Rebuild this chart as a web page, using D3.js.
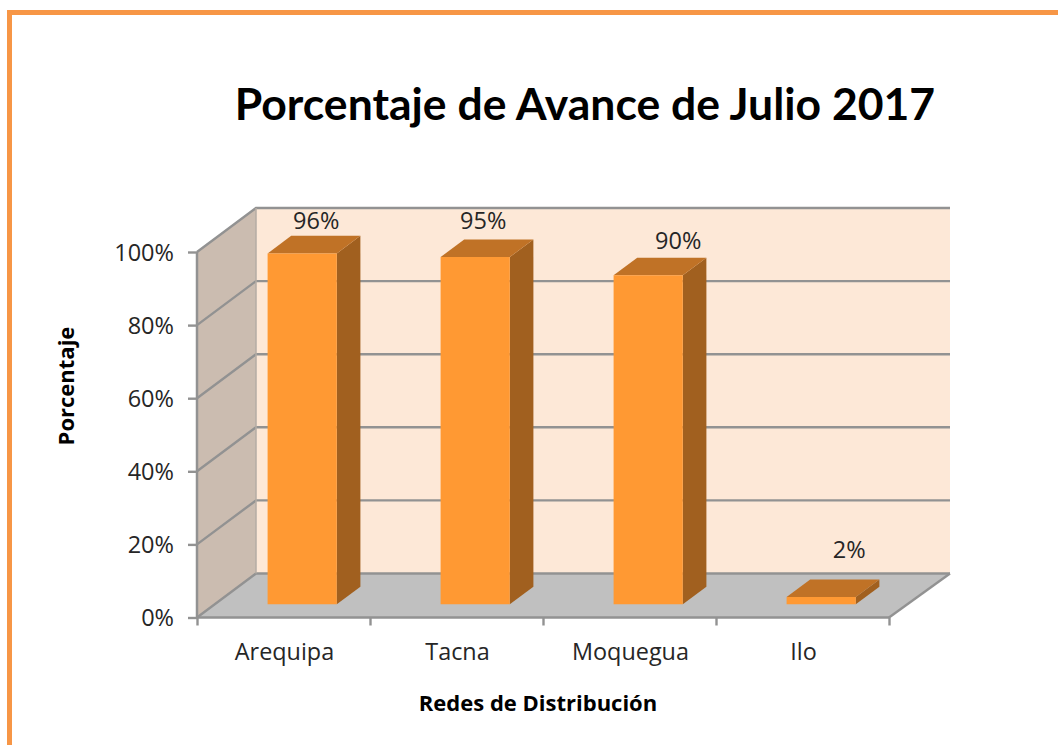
<!DOCTYPE html>
<html><head><meta charset="utf-8">
<script src="https://cdn.jsdelivr.net/npm/d3@7"></script>
<style>
html,body{margin:0;padding:0;background:#fff;overflow:hidden}
svg{display:block}
text{font-family:"Open Sans",Lato,sans-serif;fill:#262626}
</style></head><body>
<svg id="c" width="1058" height="745"></svg>
<script>
const categories = ["Arequipa","Tacna","Moquegua","Ilo"];
const values = [96,95,90,2];
const yTicks = [0,20,40,60,80,100];
const titleText = "Porcentaje de Avance de Julio 2017";
const xTitle = "Redes de Distribución";
const yTitle = "Porcentaje";

const svg = d3.select("#c");
const L=197,R=889,B=617.5,T=252, DX=59, DY=-44;
const y = d3.scaleLinear().domain([0,100]).range([B,T]);
const x = d3.scaleBand().domain(categories).range([L+1,R+1]).paddingInner(0.6).paddingOuter(0.3);
const line = "#929292";

// frame
svg.append("path").attr("d","M9.5,745V12.5H1058").attr("fill","none").attr("stroke","#F79646").attr("stroke-width",5);

// walls
const poly=(pts,fill,stroke)=>svg.append("polygon").attr("points",pts.map(p=>p.join(",")).join(" ")).attr("fill",fill).attr("stroke",stroke||"none");
poly([[L+DX,y(100)+DY],[R+DX+2,y(100)+DY],[R+DX+2,B+DY],[L+DX,B+DY]],"#FDE8D7");
poly([[L,y(100)],[L+DX,y(100)+DY],[L+DX,B+DY],[L,B]],"#CBBCB0");
poly([[L,B],[L+DX,B+DY],[R+DX+2,B+DY],[R,B]],"#C0C0C0");

// gridlines
const grid = svg.append("g").attr("fill","none").attr("stroke",line).attr("stroke-width",2.4);
yTicks.forEach(t=>{
  grid.append("path").attr("d",`M${L},${y(t)}L${L+DX},${y(t)+DY}L${R+DX+2},${y(t)+DY}`);
});
grid.append("path").attr("d",`M${L+DX},${y(100)+DY}V${B+DY}`).attr("stroke","#b5aca4").attr("stroke-width",1.5);
grid.append("path").attr("d",`M${R},${B}L${R+DX+2},${B+DY}`);

// bars
const F0=0.3, F1=0.7;
const bars = svg.append("g");
categories.forEach((c,i)=>{
  const x0=x(c)+F0*DX, x1=x0+x.bandwidth();
  const yb=B+F0*DY, yt=yb-(B-y(values[i]));
  const ddx=(F1-F0)*DX, ddy=(F1-F0)*DY;
  const g=bars.append("g");
  const p=(pts,fill)=>g.append("polygon").attr("points",pts.map(q=>q.join(",")).join(" ")).attr("fill",fill);
  p([[x1,yt],[x1+ddx,yt+ddy],[x1+ddx,yb+ddy],[x1,yb]],"#A1601F");
  p([[x0,yt],[x0+ddx,yt+ddy],[x1+ddx,yt+ddy],[x1,yt]],"#C07226");
  p([[x0,yt],[x1,yt],[x1,yb],[x0,yb]],"#FF9933");
});

// axes
const yAxis=d3.axisLeft(y).tickValues(yTicks).tickFormat(d=>d+"%").tickSize(9).tickPadding(14);
const xTickScale=d3.scaleLinear().domain([0,categories.length]).range([L,R]);
const gy=svg.append("g").attr("transform",`translate(${L},0)`).call(yAxis);
gy.select(".domain").attr("stroke",line).attr("stroke-width",2.5).attr("d",`M0,${y(100)}V${B}`);
gy.selectAll(".tick line").attr("stroke",line).attr("stroke-width",2.4);
gy.selectAll(".tick text").attr("font-size",23.5).attr("dy","0.34em").style("fill","#262626").attr("font-family",null);

const xAxis=d3.axisBottom(xTickScale).tickValues(d3.range(categories.length+1)).tickFormat("").tickSize(8);
const gx=svg.append("g").attr("transform",`translate(0,${B})`).call(xAxis);
gx.select(".domain").attr("stroke",line).attr("stroke-width",2.5).attr("d",`M${L},0H${R}`);
gx.selectAll(".tick line").attr("stroke",line).attr("stroke-width",2.4);

// category labels
svg.append("g").selectAll("text").data(categories).join("text")
  .attr("x",d=>x(d)+x.bandwidth()/2).attr("y",660)
  .attr("text-anchor","middle").attr("font-size",23.4).text(d=>d);

// value labels
const dlDx=[14,8,30,28], dlY=[15,18,17,29];
svg.append("g").selectAll("text").data(values).join("text")
  .attr("x",(d,i)=>x(categories[i])+x.bandwidth()/2+F0*DX+dlDx[i])
  .attr("y",(d,i)=>B+F0*DY-(B-y(d))+(F1-F0)*DY-dlY[i]+8)
  .attr("text-anchor","middle").attr("font-size",23.5).text(d=>d+"%");

// titles
svg.append("text").attr("x",585).attr("y",120).attr("text-anchor","middle")
  .attr("font-size",44.5).attr("font-weight",700).style("fill","#000").style("font-family","Lato").text(titleText);
svg.append("text").attr("x",538).attr("y",711).attr("text-anchor","middle")
  .attr("font-size",22).attr("font-weight",700).style("fill","#000").text(xTitle);
svg.append("text").attr("transform","translate(74,386) rotate(-90)").attr("text-anchor","middle")
  .attr("font-size",22).attr("font-weight",700).style("fill","#000").text(yTitle);
</script>
</body></html>
